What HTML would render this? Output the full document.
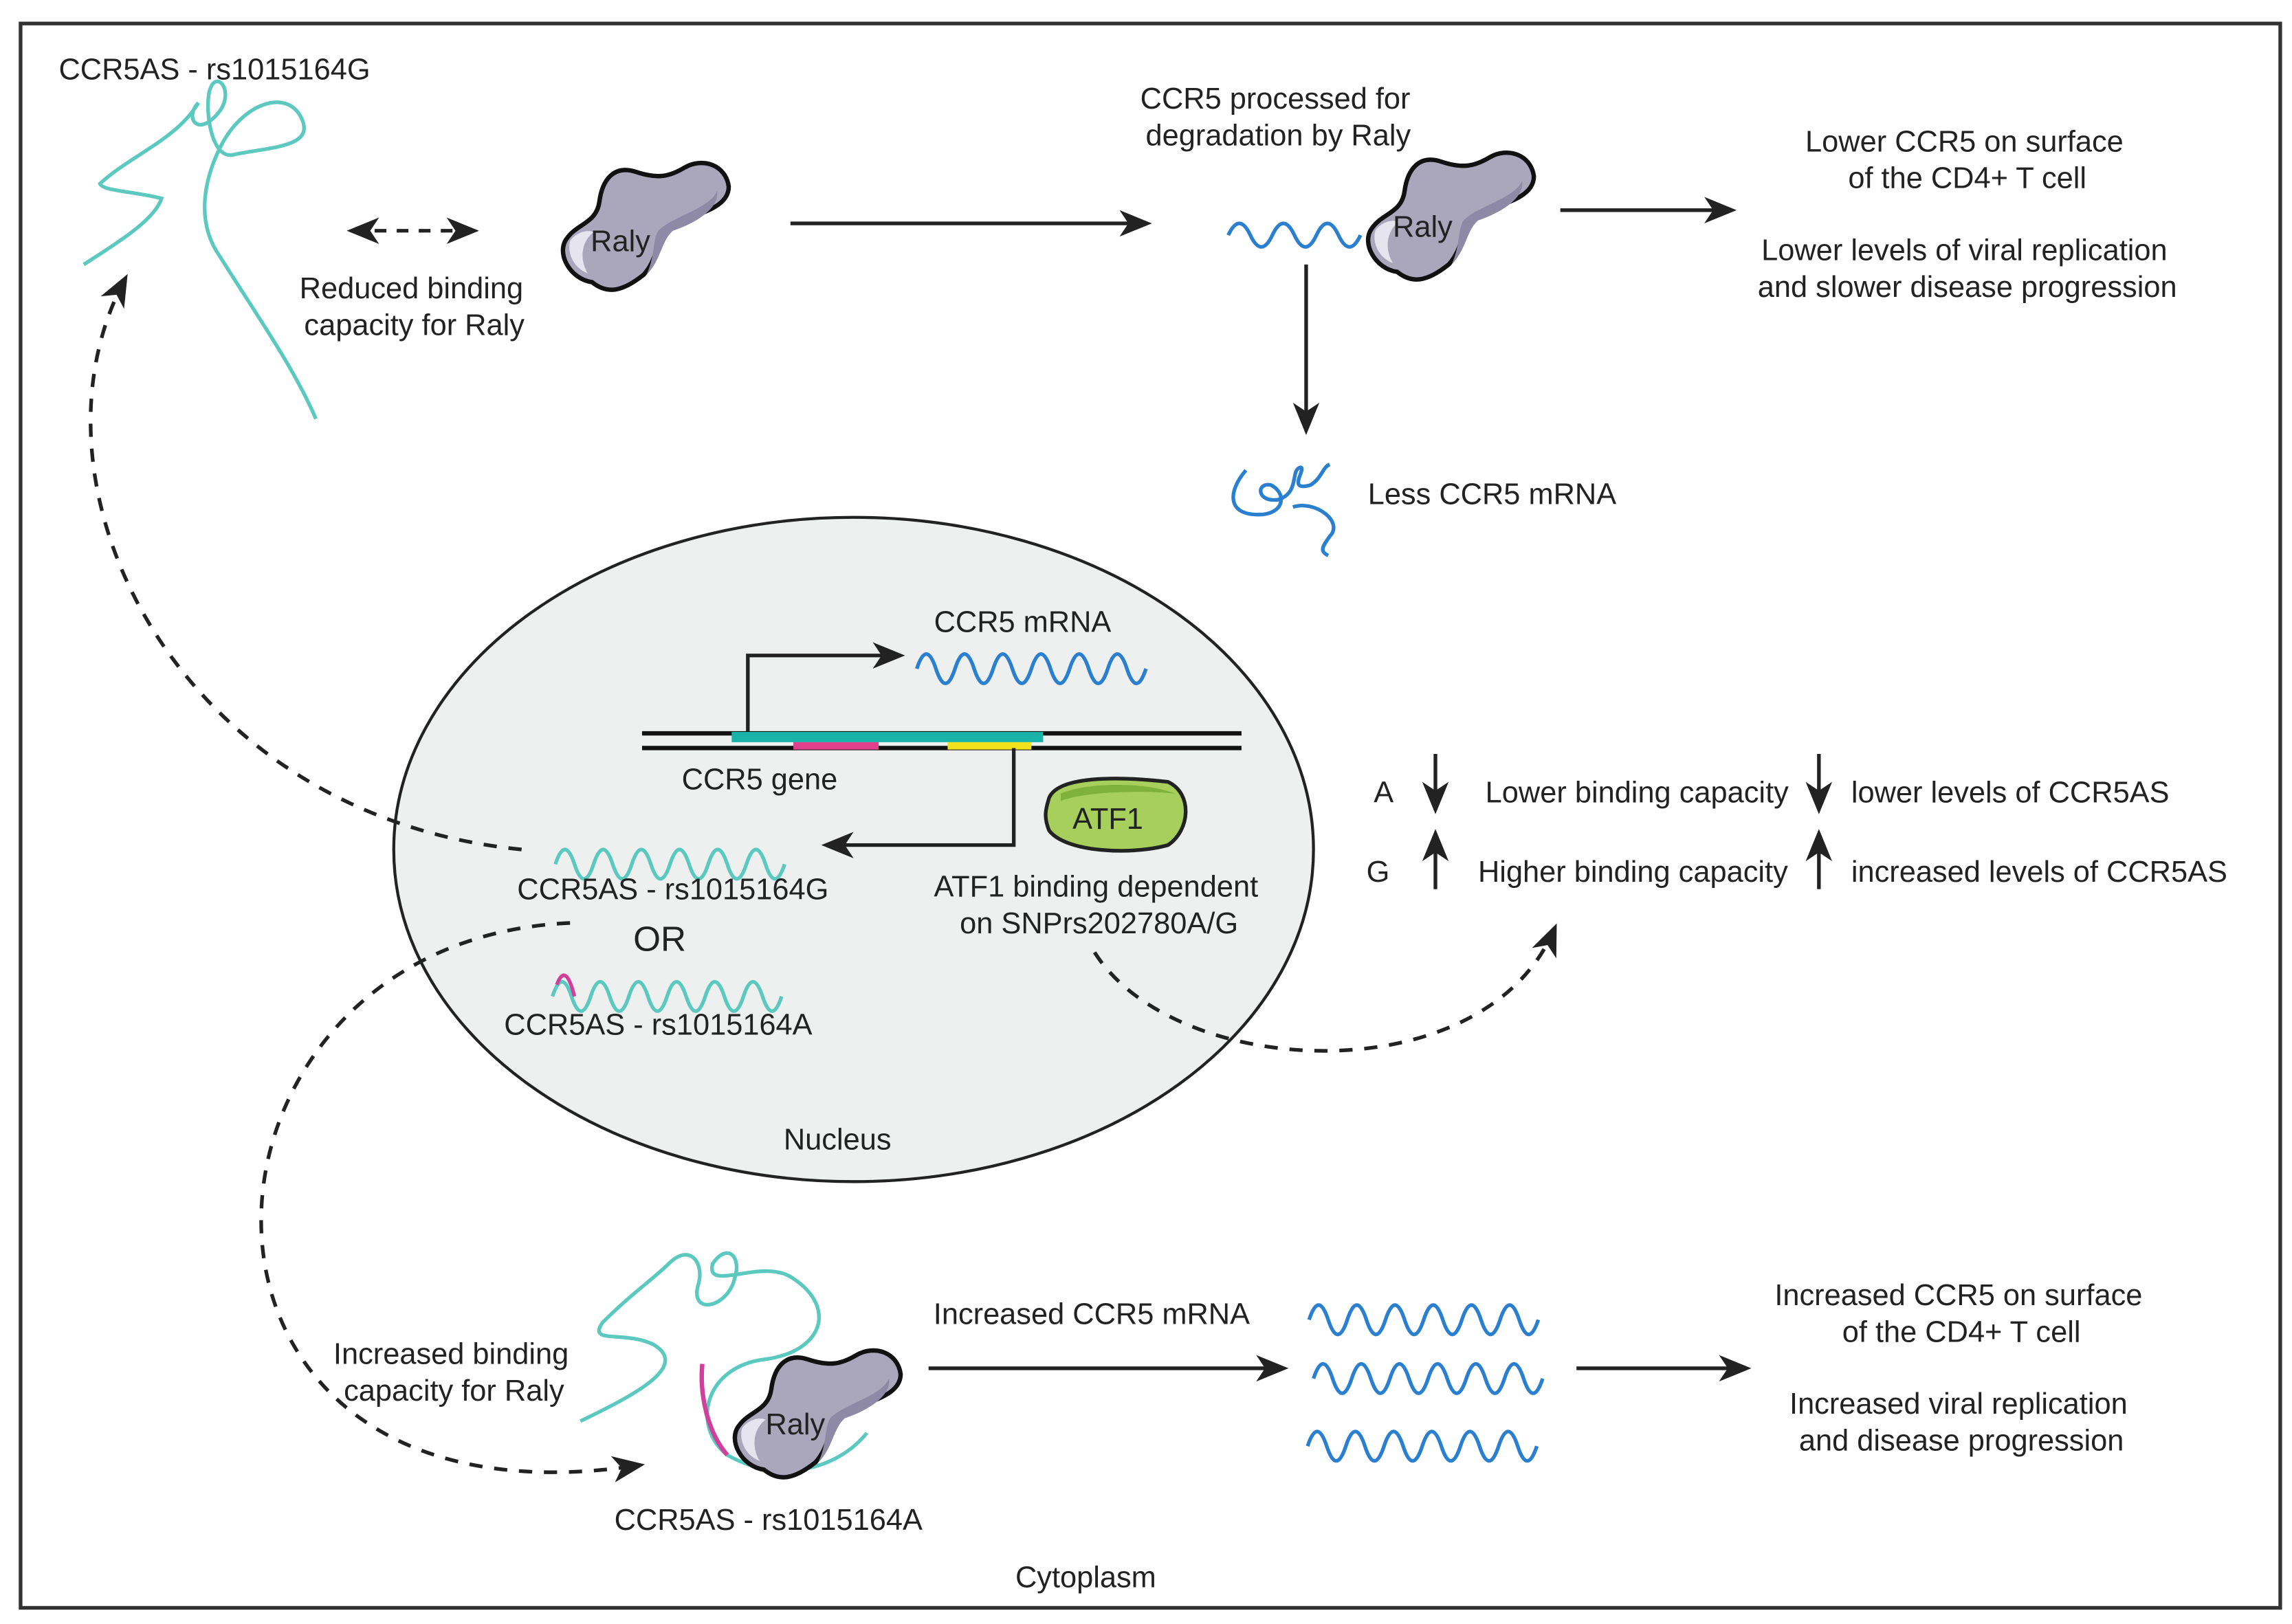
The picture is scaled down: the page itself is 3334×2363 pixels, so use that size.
<!DOCTYPE html>
<html><head><meta charset="utf-8"><style>
html,body{margin:0;padding:0;background:#fff}
svg{display:block}
text{font-family:"Liberation Sans",sans-serif;font-size:20.3px;fill:#222}
</style></head><body>
<svg width="3334" height="2363" viewBox="0 0 1560 1105" preserveAspectRatio="none" xmlns="http://www.w3.org/2000/svg">
<defs>
<marker id="ahs" markerWidth="22" markerHeight="22" refX="18" refY="11" orient="auto-start-reverse" markerUnits="userSpaceOnUse" viewBox="0 0 22 22">
<path d="M0 2 L22 11 L0 20 L6 11 Z" fill="#222"/></marker>
<g id="raly">
<path d="M8 60 C0 70,10 88,25 90 C35 98,45 97,60 85 C72 72,68 55,80 50 C95 44,118 40,118 25 C116 10,100 5,88 12 C78 18,70 20,55 15 C40 10,32 20,30 35 C28 50,15 50,8 60 Z" fill="#aaa7bd" stroke="#111" stroke-width="3"/>
<path d="M70 55 C80 45,105 40,110 28 C112 40,95 50,80 55 C72 62,72 75,62 85 C68 72,66 62,70 55Z" fill="#8e8aa5"/>
<path d="M10 62 C14 56,22 54,26 56 C18 62,16 74,22 84 C12 80,8 70,10 62Z" fill="#e6e4ee"/>
</g>
</defs>
<rect x="14" y="16" width="1538" height="1078" fill="#fff" stroke="#333" stroke-width="2.5"/>
<ellipse cx="581" cy="578" rx="313" ry="226" fill="#eef0f0" stroke="#222" stroke-width="2"/>

<path d="M57 180 C80 165,105 150,110 135 C90 130,70 130,68 125 C90 105,120 95,135 70 C125 80,135 95,150 75 C160 60,145 45,142 65 C140 80,145 110,160 105 C185 100,215 100,205 80 C195 60,165 70,150 100 C140 120,132 150,150 175 C175 215,200 250,215 285" fill="none" stroke="#5cc9c0" stroke-width="2.5"/>
<text x="40" y="54">CCR5AS - rs1015164G</text>
<line x1="240" y1="157" x2="322" y2="157" stroke="#222" stroke-width="2.5" stroke-dasharray="8,7" marker-start="url(#ahs)" marker-end="url(#ahs)"/>
<text x="280" y="203" text-anchor="middle">Reduced binding</text>
<text x="282" y="228" text-anchor="middle">capacity for Raly</text>
<use href="#raly" x="378" y="102"/>
<text x="402" y="171">Raly</text>
<line x1="538" y1="152" x2="780" y2="152" stroke="#222" stroke-width="2.5" marker-end="url(#ahs)"/>

<text x="868" y="74" text-anchor="middle">CCR5 processed for</text>
<text x="870" y="99" text-anchor="middle">degradation by Raly</text>
<path d="M836 160 q7.5 -16 15 0 t15 0 t15 0 t15 0 t15 0 t15 0" fill="none" stroke="#2b7fcf" stroke-width="2.5"/>
<use href="#raly" x="926" y="95"/>
<text x="948" y="161">Raly</text>
<line x1="1062" y1="143" x2="1178" y2="143" stroke="#222" stroke-width="2.5" marker-end="url(#ahs)"/>
<text x="1337" y="103" text-anchor="middle">Lower CCR5 on surface</text>
<text x="1339" y="128" text-anchor="middle">of the CD4+ T cell</text>
<text x="1337" y="177" text-anchor="middle">Lower levels of viral replication</text>
<text x="1339" y="202" text-anchor="middle">and  slower disease progression</text>
<line x1="889" y1="180" x2="889" y2="292" stroke="#222" stroke-width="2.5" marker-end="url(#ahs)"/>
<path d="M848 320 C835 335,835 352,860 350 C875 348,875 335,865 330 C855 328,855 342,870 340 C885 335,878 320,885 318 C890 318,875 335,892 330 C900 325,900 318,905 316 M880 345 C895 340,915 355,905 365 C900 372,898 375,904 378" fill="none" stroke="#2b7fcf" stroke-width="2.5"/>
<text x="931" y="343">Less CCR5 mRNA</text>

<text x="696" y="430" text-anchor="middle">CCR5 mRNA</text>
<path d="M624 455 q6.5 -20 13 0 t13 0 t13 0 t13 0 t13 0 t13 0 t13 0 t13 0 t13 0 t13 0 t13 0 t13 0" fill="none" stroke="#2b7fcf" stroke-width="2.5"/>
<polyline points="509,499 509,446 612,446" fill="none" stroke="#222" stroke-width="2.5" marker-end="url(#ahs)"/>
<line x1="437" y1="499" x2="845" y2="499" stroke="#111" stroke-width="3"/>
<line x1="437" y1="509" x2="845" y2="509" stroke="#111" stroke-width="3"/>
<rect x="498" y="498" width="212" height="7" fill="#19b3a9"/>
<rect x="540" y="505" width="58" height="5" fill="#e0408c"/>
<rect x="645" y="505" width="57" height="5" fill="#f2e21c"/>
<text x="517" y="537" text-anchor="middle">CCR5 gene</text>
<polyline points="690,509 690,575 563,575" fill="none" stroke="#222" stroke-width="2.5" marker-end="url(#ahs)"/>
<path d="M714 543 C720 528,760 528,795 532 C812 540,810 565,795 575 C770 582,725 580,714 565 C710 555,712 550,714 543Z" fill="#a6cf5c" stroke="#222" stroke-width="2.5"/>
<path d="M722 540 C740 532,780 532,800 540 C780 538,740 538,722 545Z" fill="#7fb23a"/>
<text x="730" y="564">ATF1</text>
<text x="746" y="610" text-anchor="middle">ATF1 binding dependent</text>
<text x="748" y="635" text-anchor="middle">on SNPrs202780A/G</text>
<path d="M378 588 q6.5 -20 13 0 t13 0 t13 0 t13 0 t13 0 t13 0 t13 0 t13 0 t13 0 t13 0 t13 0 t13 0" fill="none" stroke="#5cc9c0" stroke-width="2.5"/>
<text x="458" y="612" text-anchor="middle">CCR5AS - rs1015164G</text>
<text x="449" y="647" text-anchor="middle" style="font-size:24px">OR</text>
<path d="M376 678 q6.5 -20 13 0 t13 0 t13 0 t13 0 t13 0 t13 0 t13 0 t13 0 t13 0 t13 0 t13 0 t13 0" fill="none" stroke="#5cc9c0" stroke-width="2.5"/>
<path d="M379 670 q6 -16 12 8" fill="none" stroke="#d0409a" stroke-width="2.5"/>
<text x="448" y="704" text-anchor="middle">CCR5AS - rs1015164A</text>
<text x="570" y="782" text-anchor="middle">Nucleus</text>

<text x="935" y="546">A</text>
<text x="930" y="600">G</text>
<line x1="977" y1="513" x2="977" y2="550" stroke="#222" stroke-width="2.5" marker-end="url(#ahs)"/>
<line x1="977" y1="605" x2="977" y2="568" stroke="#222" stroke-width="2.5" marker-end="url(#ahs)"/>
<text x="1011" y="546">Lower binding capacity</text>
<text x="1006" y="600">Higher binding capacity</text>
<line x1="1238" y1="513" x2="1238" y2="550" stroke="#222" stroke-width="2.5" marker-end="url(#ahs)"/>
<line x1="1238" y1="605" x2="1238" y2="568" stroke="#222" stroke-width="2.5" marker-end="url(#ahs)"/>
<text x="1260" y="546">lower levels of CCR5AS</text>
<text x="1260" y="600">increased levels of CCR5AS</text>

<path d="M355 578 C120 555,10 330,85 190" fill="none" stroke="#222" stroke-width="2.5" stroke-dasharray="9,8" marker-end="url(#ahs)"/>
<path d="M388 628 C110 640,90 1050,435 997" fill="none" stroke="#222" stroke-width="2.5" stroke-dasharray="9,8" marker-end="url(#ahs)"/>
<path d="M745 648 C800 735,1010 745,1058 632" fill="none" stroke="#222" stroke-width="2.5" stroke-dasharray="9,8" marker-end="url(#ahs)"/>

<path d="M395 967 C430 950,470 930,445 915 C425 905,400 915,410 900 C430 880,445 870,455 860 C470 845,480 860,475 875 C470 895,495 890,500 870 C505 855,495 845,485 860 C480 880,520 855,540 870 C570 890,560 920,520 925 C480 930,470 970,495 990 C530 1010,570 1000,590 975" fill="none" stroke="#5cc9c0" stroke-width="2.5"/>
<path d="M478 928 C476 950,482 975,495 990" fill="none" stroke="#d0409a" stroke-width="3"/>
<use href="#raly" x="495" y="910"/>
<text x="521" y="976">Raly</text>
<text x="307" y="928" text-anchor="middle">Increased binding</text>
<text x="309" y="953" text-anchor="middle">capacity for Raly</text>
<text x="523" y="1041" text-anchor="middle">CCR5AS - rs1015164A</text>
<text x="743" y="901" text-anchor="middle">Increased CCR5 mRNA</text>
<line x1="632" y1="931" x2="873" y2="931" stroke="#222" stroke-width="2.5" marker-end="url(#ahs)"/>
<path d="M891 898 q6.5 -20 13 0 t13 0 t13 0 t13 0 t13 0 t13 0 t13 0 t13 0 t13 0 t13 0 t13 0 t13 0" fill="none" stroke="#2b7fcf" stroke-width="2.5"/>
<path d="M894 938 q6.5 -20 13 0 t13 0 t13 0 t13 0 t13 0 t13 0 t13 0 t13 0 t13 0 t13 0 t13 0 t13 0" fill="none" stroke="#2b7fcf" stroke-width="2.5"/>
<path d="M890 984 q6.5 -20 13 0 t13 0 t13 0 t13 0 t13 0 t13 0 t13 0 t13 0 t13 0 t13 0 t13 0 t13 0" fill="none" stroke="#2b7fcf" stroke-width="2.5"/>
<line x1="1073" y1="931" x2="1188" y2="931" stroke="#222" stroke-width="2.5" marker-end="url(#ahs)"/>
<text x="1333" y="888" text-anchor="middle">Increased CCR5 on surface</text>
<text x="1335" y="913" text-anchor="middle">of the CD4+ T cell</text>
<text x="1333" y="962" text-anchor="middle">Increased viral replication</text>
<text x="1335" y="987" text-anchor="middle">and disease progression</text>
<text x="739" y="1080" text-anchor="middle">Cytoplasm</text>
</svg>
</body></html>
